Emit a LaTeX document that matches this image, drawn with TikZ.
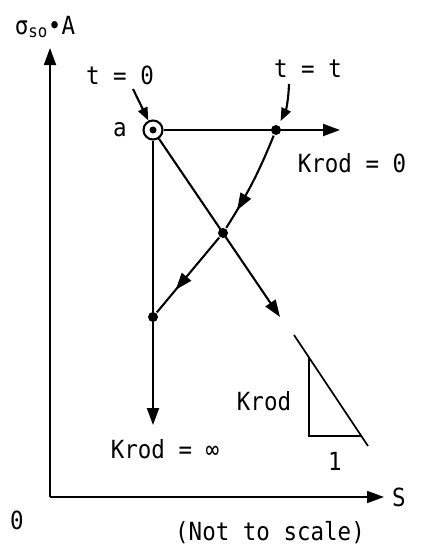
\documentclass[tikz,border=0pt]{standalone}
\usepackage{fontspec}
\setmainfont{DejaVu Sans Mono}[FakeStretch=0.9]
\usetikzlibrary{arrows.meta,decorations.markings}

\begin{document}
\begin{tikzpicture}[x=1pt,y=-1pt,line width=2.1pt,
    every node/.style={font=\fontsize{25}{29}\selectfont,inner sep=0pt},
    tip/.style={-{Triangle[length=17pt,width=12pt]}},
    smalltip/.style={-{Triangle[length=13pt,width=10pt]}},
    dot/.style={circle,fill,inner sep=0pt,minimum size=10pt},
    midtip/.style={decoration={markings,mark=at position #1 with {\arrow{Triangle[length=17pt,width=12pt]}}},postaction={decorate}}]
  \useasboundingbox (0,0) rectangle (422,551);
  % axes
  \coordinate (o) at (50,497);
  \coordinate (ytop) at (50,48);
  \coordinate (xend) at (384,497);
  \draw[tip,line width=1.8pt] (o) -- (ytop);
  \draw[tip,line width=1.8pt] (o) -- (xend);
  \node (yl) at (45,27) {σ\textsubscript{so}•A};
  \node (xl) at (399,497) {S};
  \node (ol) at (17,520) {0};
  \node (ns) at (270,533) {(Not to scale)};
  % paths from a
  \node[circle,draw,minimum size=19pt] (a) at (153,130) {};
  \node[dot,minimum size=7pt] (ac) at (a) {};
  \node (al) at (120,130) {a};
  \node[dot] (p) at (276,130) {};
  \node[dot] (x) at (223,233) {};
  \node[dot] (q) at (153,317) {};
  \coordinate (hend) at (340,130);
  \coordinate (vend) at (153,425);
  \coordinate (dend) at (280,317);
  \draw[tip] (a) -- (hend);
  \draw[tip] (a) -- (vend);
  \draw[tip] (a) -- (dend);
  \draw[midtip=0.8] (p) to[bend left=5] (x);
  \draw[midtip=0.7] (x) -- (q);
  % time labels
  \node (t0) at (120,75) {t = 0};
  \coordinate (t0s) at (133,89);
  \draw[smalltip] (t0s) -- (a);
  \node (tt) at (308,69) {t = t};
  \coordinate (tts) at (289,84);
  \draw[smalltip,shorten >=4pt] (tts) to[bend left=12] (p);
  \node (k0) at (352,163) {Krod = 0};
  \node (ki) at (165,449) {Krod = ∞};
  % slope triangle
  \coordinate (h1) at (294,335);
  \coordinate (h2) at (368,446);
  \coordinate (k1) at (309,358);
  \coordinate (k2) at (309,436);
  \coordinate (k3) at (361,436);
  \draw[line width=1.7pt] (h1) -- (h2);
  \draw[line width=1.7pt] (k1) -- (k2) -- (k3);
  \node (kl) at (264,401) {Krod};
  \node (one) at (335,461) {1};
\end{tikzpicture}
\end{document}
